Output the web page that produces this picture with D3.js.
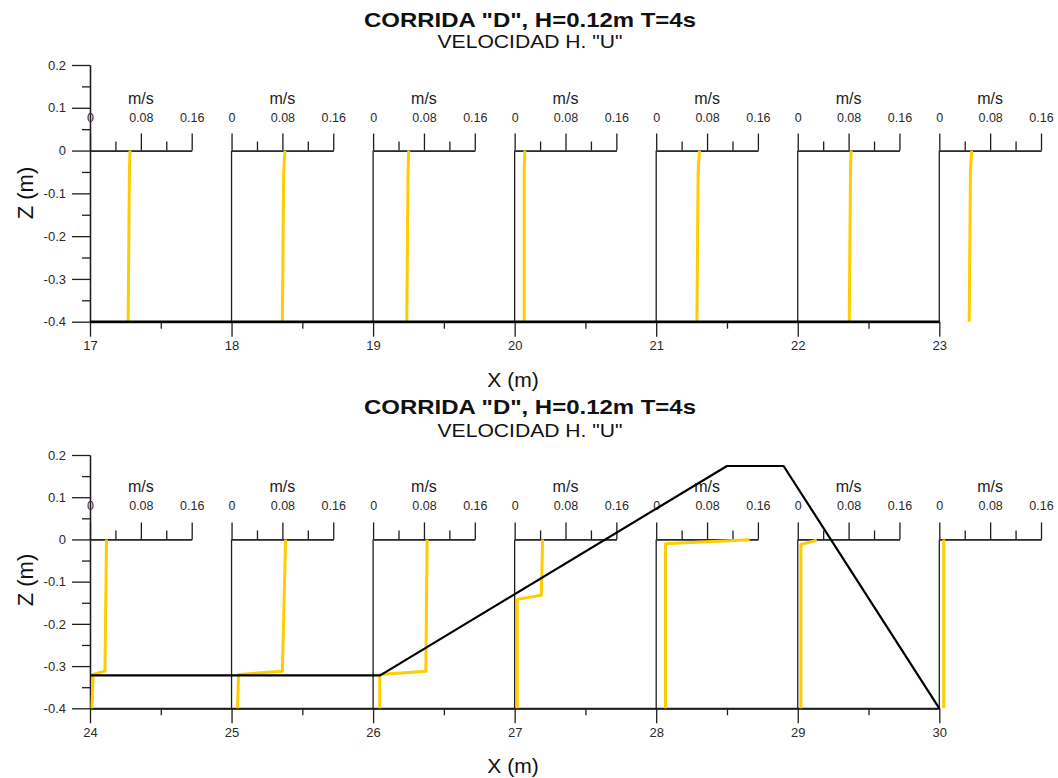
<!DOCTYPE html>
<html>
<head>
<meta charset="utf-8">
<script src="https://cdn.jsdelivr.net/npm/d3@7"></script>
<style>
  html, body { margin: 0; padding: 0; background: #ffffff; }
  svg { display: block; font-family: "Liberation Sans", Arial, sans-serif; }
</style>
</head>
<body>
<svg id="chart" width="1058" height="778"></svg>
<script>
// ---------------- data ----------------
const titleText = 'CORRIDA "D", H=0.12m T=4s';
const subtitleText = 'VELOCIDAD H. "U"';
const xTitle = "X (m)";
const zTitle = "Z (m)";
const velUnit = "m/s";

const zTicks = [0.2, 0.1, 0, -0.1, -0.2, -0.3, -0.4];
const zMinorTicks = [0.15, 0.05, -0.05, -0.15, -0.25, -0.35];
const uTicks = [0, 0.08, 0.16];
const uMinorTicks = [0.04, 0.12];

// top panel: stations along the flume (m)
const topStations = [17, 18, 19, 20, 21, 22, 23];
// each profile: [u (m/s), z (m)]
const topProfiles = [
  [[0.060, -0.4], [0.062, -0.05], [0.063, 0]],
  [[0.080, -0.4], [0.082, -0.05], [0.084, 0]],
  [[0.053, -0.4], [0.055, -0.05], [0.056, 0]],
  [[0.015, -0.4], [0.015, -0.05], [0.016, 0]],
  [[0.064, -0.4], [0.066, -0.05], [0.068, 0]],
  [[0.081, -0.4], [0.083, -0.05], [0.084, 0]],
  [[0.047, -0.4], [0.049, -0.05], [0.051, 0]]
];
const topBed = [[17, -0.4], [23, -0.4]];

// bottom panel
const bottomStations = [24, 25, 26, 27, 28, 29, 30];
const bottomProfiles = [
  [[0.003, -0.4], [0.005, -0.32], [0.0235, -0.312], [0.026, 0]],
  [[0.0094, -0.4], [0.011, -0.32], [0.080, -0.312], [0.085, 0]],
  [[0.0105, -0.4], [0.0105, -0.32], [0.083, -0.312], [0.085, 0]],
  [[0.004, -0.4], [0.004, -0.142], [0.042, -0.132], [0.044, 0]],
  [[0.0146, -0.4], [0.0146, -0.01], [0.147, -0.001]],
  [[0.005, -0.4], [0.005, -0.012], [0.030, -0.002]],
  [[0.007, -0.4], [0.007, 0]]
];
const bottomBed = [[24, -0.322], [26.05, -0.322], [28.5, 0.174], [28.9, 0.174], [30, -0.4]];

// ---------------- drawing ----------------
const svg = d3.select("#chart");
const AXIS = "#1e1e1e";
const YELLOW = "#ffcc00";
const fmtZ = d => d === 0 ? "0" : d.toFixed(1).replace("\u2212", "-");
const fmtU = d => d === 0 ? "0" : String(d);

function styleAxis(g, fontSize) {
  g.selectAll("path.domain").attr("stroke", AXIS).attr("stroke-width", 1.3);
  g.selectAll(".tick line").attr("stroke", AXIS).attr("stroke-width", 1.3);
  g.selectAll(".tick text").attr("fill", "#2a2a2a")
    .style("font-size", fontSize + "px")
    .style("font-family", '"Liberation Sans", Arial, sans-serif');
}

function drawPanel(cfg) {
  const x = d3.scaleLinear().domain([cfg.stations[0], cfg.stations[cfg.stations.length - 1]]).range([90, 939.3]);
  const y = d3.scaleLinear().domain([-0.4, 0.2]).range([cfg.yBottom, cfg.yTop]);
  const u = d3.scaleLinear().domain([0, 0.16]).range([0, 101.7]);
  const g = svg.append("g");

  // titles
  g.append("text").attr("x", 530).attr("y", cfg.titleY)
    .attr("text-anchor", "middle").attr("font-weight", "bold")
    .attr("textLength", 332).attr("lengthAdjust", "spacingAndGlyphs")
    .style("font-size", "21px").attr("fill", "#111").text(titleText);
  g.append("text").attr("x", 530).attr("y", cfg.subY)
    .attr("text-anchor", "middle")
    .attr("textLength", 185).attr("lengthAdjust", "spacingAndGlyphs")
    .style("font-size", "18px").attr("fill", "#111").text(subtitleText);

  // Z axis (left)
  const yMinor = g.append("g").attr("transform", "translate(90,0)")
    .call(d3.axisLeft(y).tickValues(zMinorTicks).tickSize(8).tickSizeOuter(0).tickFormat(""));
  styleAxis(yMinor, 13);
  const yAx = g.append("g").attr("transform", "translate(90,0)")
    .call(d3.axisLeft(y).tickValues(zTicks).tickSize(18).tickSizeOuter(0).tickPadding(6).tickFormat(fmtZ));
  styleAxis(yAx, 13);

  // X axis (bottom, at z = -0.4)
  const xs = cfg.stations;
  const halfTicks = xs.slice(0, -1).map(s => s + 0.5);
  const xMinor = g.append("g").attr("transform", `translate(0,${y(-0.4)})`)
    .call(d3.axisBottom(x).tickValues(halfTicks).tickSize(7).tickSizeOuter(0).tickFormat(""));
  styleAxis(xMinor, 13);
  const xAx = g.append("g").attr("transform", `translate(0,${y(-0.4)})`)
    .call(d3.axisBottom(x).tickValues(xs).tickSize(15).tickSizeOuter(0).tickPadding(4).tickFormat(d3.format("d")));
  styleAxis(xAx, 13);
  xAx.selectAll("path.domain").attr("stroke-width", 2);

  // axis titles
  g.append("text").attr("x", 513).attr("y", cfg.xTitleY).attr("text-anchor", "middle")
    .style("font-size", "21px").attr("fill", "#111").text(xTitle);
  g.append("text").attr("transform", `translate(33,${cfg.zTitleY}) rotate(-90)`)
    .attr("text-anchor", "middle").style("font-size", "22px").attr("fill", "#111").text(zTitle);

  // per-station velocity axes
  xs.forEach((s, i) => {
    const x0 = x(s);
    if (i > 0) {
      g.append("line").attr("x1", x0).attr("x2", x0)
        .attr("y1", y(0)).attr("y2", y(-0.4))
        .attr("stroke", AXIS).attr("stroke-width", 1.3);
    }
    const um = g.append("g").attr("transform", `translate(${x0},${y(0)})`)
      .call(d3.axisTop(u).tickValues(uMinorTicks).tickSize(9).tickSizeOuter(0).tickFormat(""));
    styleAxis(um, 12.5);
    const ua = g.append("g").attr("transform", `translate(${x0},${y(0)})`)
      .call(d3.axisTop(u).tickValues(uTicks).tickSize(17).tickSizeOuter(0).tickPadding(12).tickFormat(fmtU));
    styleAxis(ua, 12.5);
    g.append("text").attr("x", x0 + u(0.08)).attr("y", y(0) - 47)
      .attr("text-anchor", "middle").style("font-size", "16px").attr("fill", "#222").text(velUnit);
  });

  // velocity profiles
  const line = d3.line();
  cfg.profiles.forEach((p, i) => {
    const x0 = x(xs[i]);
    g.append("path")
      .attr("d", line.x(d => x0 + u(d[0])).y(d => y(d[1]))(p))
      .attr("fill", "none").attr("stroke", YELLOW).attr("stroke-width", 3)
      .attr("stroke-linejoin", "round");
  });

  // bed profile
  g.append("path")
    .attr("d", d3.line().x(d => x(d[0])).y(d => y(d[1]))(cfg.bed))
    .attr("fill", "none").attr("stroke", "#000").attr("stroke-width", 2.2)
    .attr("stroke-linejoin", "round");
}

drawPanel({
  stations: topStations, profiles: topProfiles, bed: topBed,
  yTop: 65, yBottom: 321.7, titleY: 27, subY: 48, xTitleY: 387, zTitleY: 193
});
drawPanel({
  stations: bottomStations, profiles: bottomProfiles, bed: bottomBed,
  yTop: 455, yBottom: 708.3, titleY: 414, subY: 437.3, xTitleY: 773, zTitleY: 580
});
</script>
</body>
</html>
